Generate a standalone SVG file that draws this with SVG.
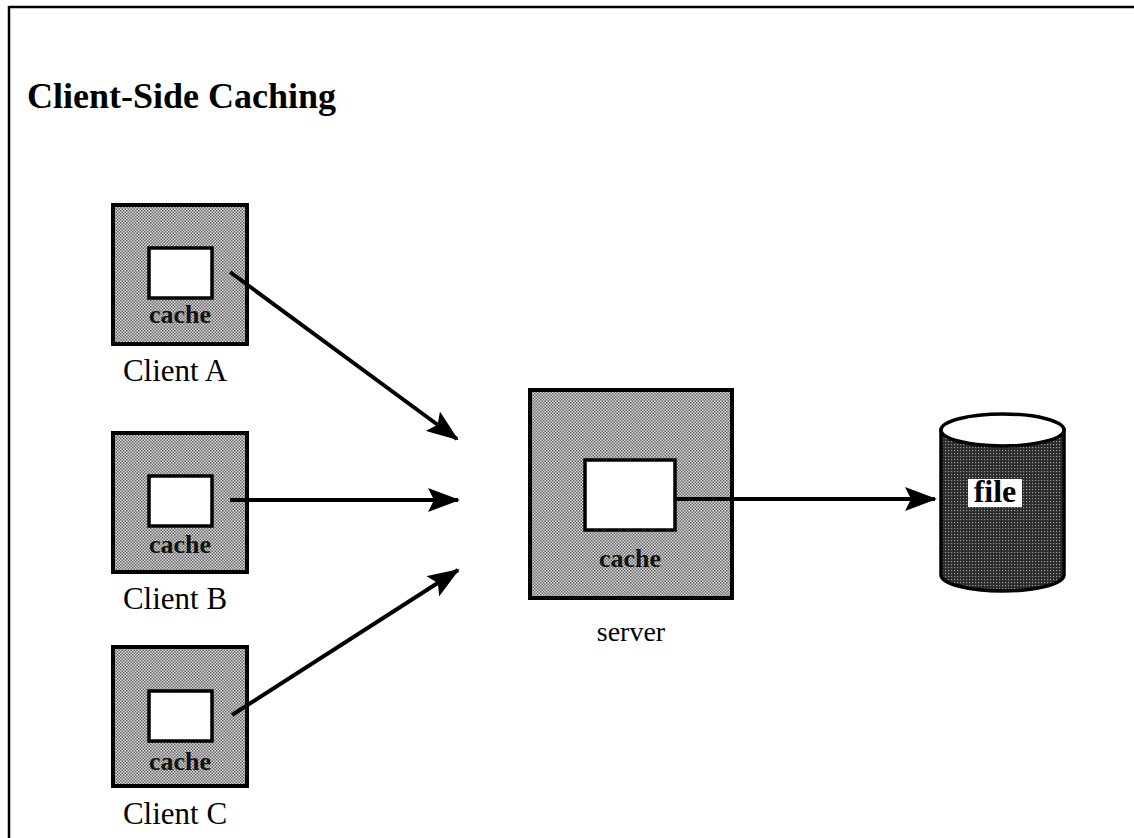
<svg xmlns="http://www.w3.org/2000/svg" width="1134" height="838" viewBox="0 0 1134 838">
<defs>
<pattern id="stip" width="3" height="3" patternUnits="userSpaceOnUse">
<rect width="3" height="3" fill="#d6d6d6"/>
<rect x="0" y="0" width="1.5" height="1.5" fill="#6a6a6a"/>
<rect x="1.5" y="1.5" width="1.5" height="1.5" fill="#6a6a6a"/>
</pattern>
<pattern id="dark" width="3" height="3" patternUnits="userSpaceOnUse">
<rect width="3" height="3" fill="#2a2a2a"/>
<rect x="0" y="0" width="1.2" height="1.2" fill="#9a9a9a"/>
</pattern>
<marker id="ah" markerWidth="8" markerHeight="6" refX="7.5" refY="3" orient="auto" markerUnits="strokeWidth">
<path d="M0,0 L8,3 L0,6 L1.5,3 Z" fill="#000"/>
</marker>
<style>
.box{fill:url(#stip);stroke:#000;stroke-width:4}
.inner{fill:#fff;stroke:#000;stroke-width:3.5}
.lbl{font-family:"Liberation Serif","Times New Roman",serif;font-size:31px;fill:#000;text-anchor:middle}
.cache{font-family:"Liberation Serif","Times New Roman",serif;font-size:26px;font-weight:bold;fill:#111;text-anchor:middle}
.conn{stroke:#000;stroke-width:4;fill:none;marker-end:url(#ah)}
</style>
</defs>
<rect width="1134" height="838" fill="#fff"/>
<g id="frame">
<line x1="9" y1="7" x2="1134" y2="7" stroke="#000" stroke-width="2.5"/>
<line x1="9" y1="6" x2="9" y2="838" stroke="#000" stroke-width="2.5"/>
</g>
<text x="27" y="108" font-family="'Liberation Serif','Times New Roman',serif" font-size="36" font-weight="bold" fill="#000">Client-Side Caching</text>
<g id="clientA">
<rect class="box" x="113" y="205" width="134" height="139"/>
<rect class="inner" x="149" y="248" width="63" height="50"/>
<text class="cache" x="180" y="323">cache</text>
<text class="lbl" x="175" y="381">Client A</text>
</g>
<g id="clientB">
<rect class="box" x="113" y="433" width="134" height="139"/>
<rect class="inner" x="149" y="476" width="63" height="50"/>
<text class="cache" x="180" y="553">cache</text>
<text class="lbl" x="175" y="609">Client B</text>
</g>
<g id="clientC">
<rect class="box" x="113" y="647" width="134" height="139"/>
<rect class="inner" x="149" y="691" width="63" height="50"/>
<text class="cache" x="180" y="770">cache</text>
<text class="lbl" x="175" y="824">Client C</text>
</g>
<g id="server">
<rect class="box" x="530" y="390" width="202" height="208"/>
<rect class="inner" x="585" y="460" width="90" height="70"/>
<text class="cache" x="630" y="567">cache</text>
<text class="lbl" x="631" y="641" style="font-size:28px">server</text>
</g>
<g id="file">
<path d="M941,430 L941,575 A61.5,16 0 0 0 1064,575 L1064,430 Z" fill="url(#dark)" stroke="#000" stroke-width="3.5"/>
<ellipse cx="1002.5" cy="430" rx="61.5" ry="16" fill="#fff" stroke="#000" stroke-width="3.5"/>
<rect x="968" y="479" width="54" height="28" fill="#fff"/>
<text x="995" y="502" font-family="'Liberation Serif','Times New Roman',serif" font-size="32" font-weight="bold" text-anchor="middle" fill="#000">file</text>
</g>
<g id="connectors">
<line class="conn" x1="230" y1="272" x2="457" y2="439"/>
<line class="conn" x1="230" y1="500" x2="458" y2="500"/>
<line class="conn" x1="232" y1="715" x2="458" y2="570"/>
<line class="conn" x1="675" y1="499" x2="935" y2="499"/>
</g>
</svg>
